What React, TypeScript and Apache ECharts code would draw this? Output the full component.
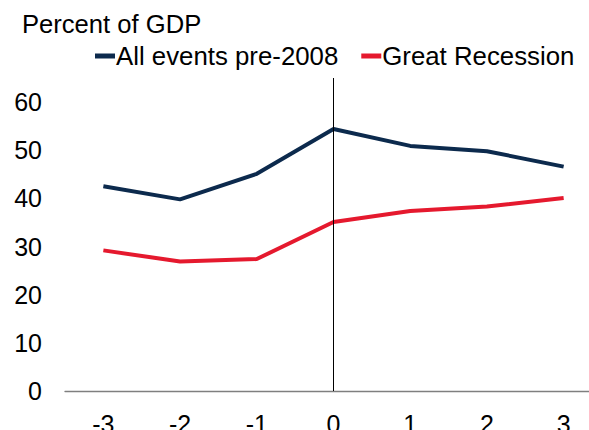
import React, { useEffect, useRef } from "react";
import * as echarts from "echarts";

const categories = ["-3", "-2", "-1", "0", "1", "2", "3"];
const allEventsPre2008 = [42.5, 39.8, 45.1, 54.4, 50.9, 49.8, 46.6];
const greatRecession = [29.2, 26.9, 27.4, 35.1, 37.4, 38.3, 40.1];
const seriesNames = ["All events pre-2008", "Great Recession"];
const titleText = "Percent of GDP";

export default function App() {
  const ref = useRef<HTMLDivElement>(null);
  useEffect(() => {
    document.body.style.margin = "0";
    if (!ref.current) return;
    const chart = echarts.init(ref.current, null, { renderer: "svg" });
    const font = "'Liberation Sans', Arial, sans-serif";
    chart.setOption({
      animation: false,
      backgroundColor: "#ffffff",
      title: {
        text: titleText,
        left: 17,
        top: 6,
        textStyle: { fontFamily: font, fontSize: 25.6, fontWeight: "normal", color: "#000" },
      },
      legend: {
        left: 90,
        top: 38,
        itemWidth: 20,
        itemHeight: 5,
        itemGap: 23,
        icon: "rect",
        textStyle: { fontFamily: font, fontSize: 25.8, color: "#000", padding: [0, 0, 0, -4] },
        data: seriesNames,
      },
      grid: {
        left: 65,
        top: 78,
        width: 537,
        height: 313,
        containLabel: false,
        outerBoundsMode: "none",
      },
      xAxis: {
        type: "category",
        data: categories,
        boundaryGap: true,
        axisLine: { lineStyle: { color: "#7f7f7f", width: 1.3 } },
        axisTick: { show: false },
        axisLabel: { fontFamily: font, fontSize: 25, color: "#000", margin: 20 },
      },
      yAxis: {
        type: "value",
        min: 0,
        max: 65,
        interval: 10,
        axisLine: { show: false },
        axisTick: { show: false },
        splitLine: { show: false },
        axisLabel: { fontFamily: font, fontSize: 25, color: "#000", margin: 23, showMaxLabel: false },
      },
      series: [
        {
          name: seriesNames[0],
          type: "line",
          data: allEventsPre2008,
          symbol: "none",
          lineStyle: { color: "#0c2a4d", width: 4 },
          itemStyle: { color: "#0c2a4d" },
          markLine: {
            silent: true,
            symbol: "none",
            label: { show: false },
            lineStyle: { color: "#000", width: 1, type: "solid" },
            data: [[{ coord: ["0", 0] }, { coord: ["0", 65] }]],
          },
        },
        {
          name: seriesNames[1],
          type: "line",
          data: greatRecession,
          symbol: "none",
          lineStyle: { color: "#e5192e", width: 4 },
          itemStyle: { color: "#e5192e" },
        },
      ],
    });
    return () => chart.dispose();
  }, []);
  return <div ref={ref} style={{ width: 589, height: 430 }} />;
}
